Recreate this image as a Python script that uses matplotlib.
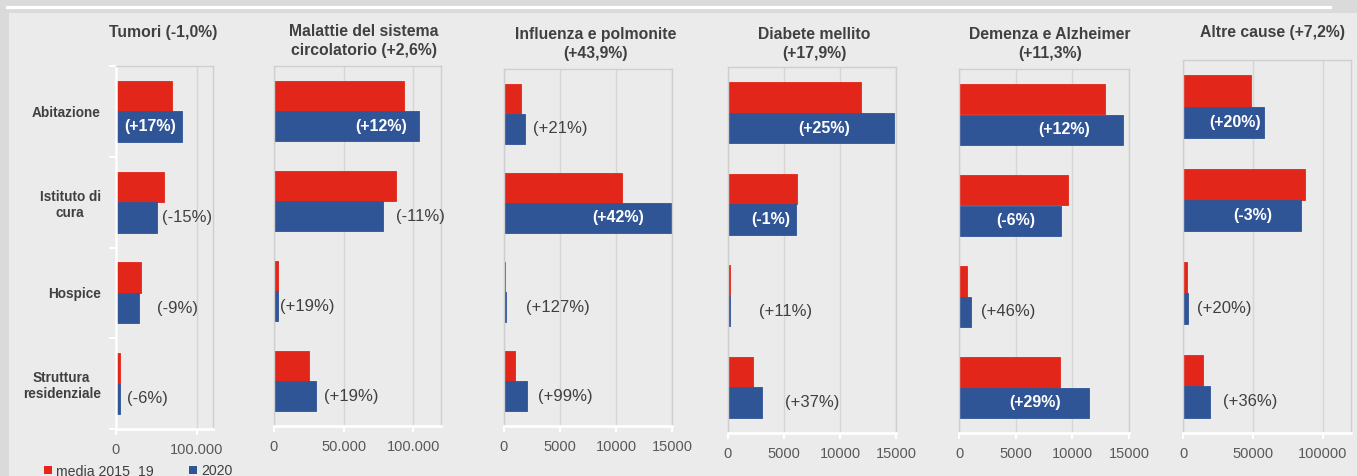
import matplotlib
matplotlib.use('Agg')
import matplotlib.pyplot as plt
from matplotlib.patches import Rectangle, Patch
from matplotlib.lines import Line2D
from matplotlib.ticker import FuncFormatter, MultipleLocator
import matplotlib.transforms as mtransforms
import numpy as np

plt.rcParams['font.family'] = ['Liberation Sans', 'DejaVu Sans']

# ---------------- data ----------------
categories = ['Abitazione', 'Istituto di\ncura', 'Hospice', 'Struttura\nresidenziale']
series_names = ['media 2015_19', '2020']

panel_titles = ['Tumori (-1,0%)',
                'Malattie del sistema\ncircolatorio (+2,6%)',
                'Influenza e polmonite\n(+43,9%)',
                'Diabete mellito\n(+17,9%)',
                'Demenza e Alzheimer\n(+11,3%)',
                'Altre cause (+7,2%)']

tumori_media = [69000, 59800, 30900, 5000]
tumori_2020 = [81300, 50800, 28000, 4700]
tumori_labels = ['(+17%)', '(-15%)', '(-9%)', '(-6%)']

circ_media = [93300, 87800, 2600, 25300]
circ_2020 = [104300, 78000, 3100, 30000]
circ_labels = ['(+12%)', '(-11%)', '(+19%)', '(+19%)']

infl_media = [1560, 10540, 90, 1020]
infl_2020 = [1890, 14970, 205, 2030]
infl_labels = ['(+21%)', '(+42%)', '(+127%)', '(+99%)']

diab_media = [11840, 6140, 190, 2240]
diab_2020 = [14800, 6080, 210, 3070]
diab_labels = ['(+25%)', '(-1%)', '(+11%)', '(+37%)']

dem_media = [12890, 9590, 710, 8910]
dem_2020 = [14440, 9010, 1040, 11490]
dem_labels = ['(+12%)', '(-6%)', '(+46%)', '(+29%)']

altre_media = [48300, 86900, 2900, 14300]
altre_2020 = [58000, 84300, 3480, 19450]
altre_labels = ['(+20%)', '(-3%)', '(+20%)', '(+36%)']

media_all = [tumori_media, circ_media, infl_media, diab_media, dem_media, altre_media]
v2020_all = [tumori_2020, circ_2020, infl_2020, diab_2020, dem_2020, altre_2020]
labels_all = [tumori_labels, circ_labels, infl_labels, diab_labels, dem_labels, altre_labels]

# label inside bar (white bold) or outside (grey)
inside_all = [[1, 0, 0, 0], [1, 0, 0, 0], [0, 1, 0, 0],
              [1, 1, 0, 0], [1, 1, 0, 1], [1, 1, 0, 0]]

# ---------------- layout / style ----------------
W, H = 1357, 476
RED = '#E3261A'
BLUE = '#2F5597'
TXT = '#404040'
TICK = '#595959'
BG_OUT = '#dadada'
BG_IN = '#ebebeb'

# axes boxes in pixels (left, top, right, bottom)
boxes = [(116, 66, 213, 429), (274, 66, 441, 426), (504, 69, 672, 426),
         (728, 67, 896, 433), (959, 69, 1129, 433), (1183, 60, 1351, 433)]
xmax = [120000, 120000, 15000, 15000, 15000, 120000]
xstep = [100000, 50000, 5000, 5000, 5000, 50000]
dot_fmt = [True, True, False, False, False, False]
title_pos = [(163, 32), (364, 41), (596, 44), (814, 44), (1050, 44), (1272, 32)]
label_xfrac = [[0.35, 0.73, 0.63, 0.32],
               [0.64, 0.874, 0.198, 0.461],
               [0.336, 0.679, 0.318, 0.363],
               [0.571, 0.255, 0.344, 0.499],
               [0.619, 0.336, 0.289, 0.448],
               [0.309, 0.416, 0.243, 0.398]]

fig = plt.figure(figsize=(W / 100, H / 100), dpi=100)
fig.patch.set_facecolor(BG_OUT)
fig.add_artist(Rectangle((9 / W, 0), 1, 1 - 13 / H, transform=fig.transFigure,
                         facecolor=BG_IN, edgecolor='none', zorder=0))
fig.add_artist(Line2D([7 / W, 1330 / W], [1 - 6.5 / H, 1 - 6.5 / H],
                      transform=fig.transFigure, color='white', lw=2.3, zorder=1))

bh = 0.335
y = np.arange(len(categories))


def dotfmt(v, pos):
    return f'{int(v):,}'.replace(',', '.')


def plainfmt(v, pos):
    return f'{int(v)}'


for i in range(6):
    l, t, r, b = boxes[i]
    ax = fig.add_axes([l / W, 1 - b / H, (r - l) / W, (b - t) / H])
    ax.set_facecolor(BG_IN)
    ax.barh(y - bh / 2, media_all[i], height=bh, color=RED, edgecolor=RED,
            linewidth=0.6, label=series_names[0], zorder=2)
    ax.barh(y + bh / 2, v2020_all[i], height=bh, color=BLUE, edgecolor=BLUE,
            linewidth=0.6, label=series_names[1], zorder=2)
    ax.set_xlim(0, xmax[i])
    ax.set_ylim(len(categories) - 0.5, -0.5)
    ax.xaxis.set_major_locator(MultipleLocator(xstep[i]))
    ax.xaxis.set_major_formatter(FuncFormatter(dotfmt if dot_fmt[i] else plainfmt))
    ax.xaxis.grid(True, color='#d6d6d6', lw=1)
    ax.set_axisbelow(True)
    for s in ['top', 'right']:
        ax.spines[s].set_color('#cfcfcf')
        ax.spines[s].set_linewidth(1)
    ax.spines['bottom'].set_color('white')
    ax.spines['bottom'].set_linewidth(2)
    ax.tick_params(axis='x', colors='white', labelcolor=TICK, labelsize=10.5,
                   length=4, width=1.5, pad=6)
    if i == 0:
        ax.spines['left'].set_color('white')
        ax.spines['left'].set_linewidth(1.8)
        ax.set_yticks(y)
        ax.set_yticklabels(categories, fontweight='bold', color=TXT,
                           fontsize=9.8, multialignment='center')
        ax.tick_params(axis='y', which='major', length=0, pad=11)
        ax.set_yticks(np.arange(-0.5, len(categories)), minor=True)
        ax.tick_params(axis='y', which='minor', colors='white', length=5, width=1.5)
    else:
        ax.spines['left'].set_color('#cfcfcf')
        ax.spines['left'].set_linewidth(1)
        ax.set_yticks([])

    trans = mtransforms.blended_transform_factory(ax.transAxes, ax.transData)
    for j in range(len(categories)):
        if inside_all[i][j]:
            ax.text(label_xfrac[i][j], y[j] + bh / 2, labels_all[i][j], transform=trans,
                    ha='center', va='center', color='white', fontweight='bold',
                    fontsize=11.5, zorder=3)
        else:
            ax.text(label_xfrac[i][j], y[j] + bh / 2, labels_all[i][j], transform=trans,
                    ha='center', va='center', color=TXT, fontsize=12, zorder=3)

    tx, ty = title_pos[i]
    fig.text(tx / W, 1 - ty / H, panel_titles[i], ha='center', va='center',
             fontweight='bold', color=TXT, fontsize=11.3, linespacing=1.3)

handles = [Patch(facecolor=RED, edgecolor='none'), Patch(facecolor=BLUE, edgecolor='none')]
fig.legend(handles, series_names, loc='center left',
           bbox_to_anchor=(44 / W, 1 - 471 / H), ncol=2, frameon=False,
           handlelength=0.55, handleheight=0.55, handletextpad=0.3,
           columnspacing=2.5, fontsize=10.2, labelcolor=TXT, borderpad=0,
           borderaxespad=0)

fig.savefig('out.png', dpi=100, facecolor=fig.get_facecolor())
